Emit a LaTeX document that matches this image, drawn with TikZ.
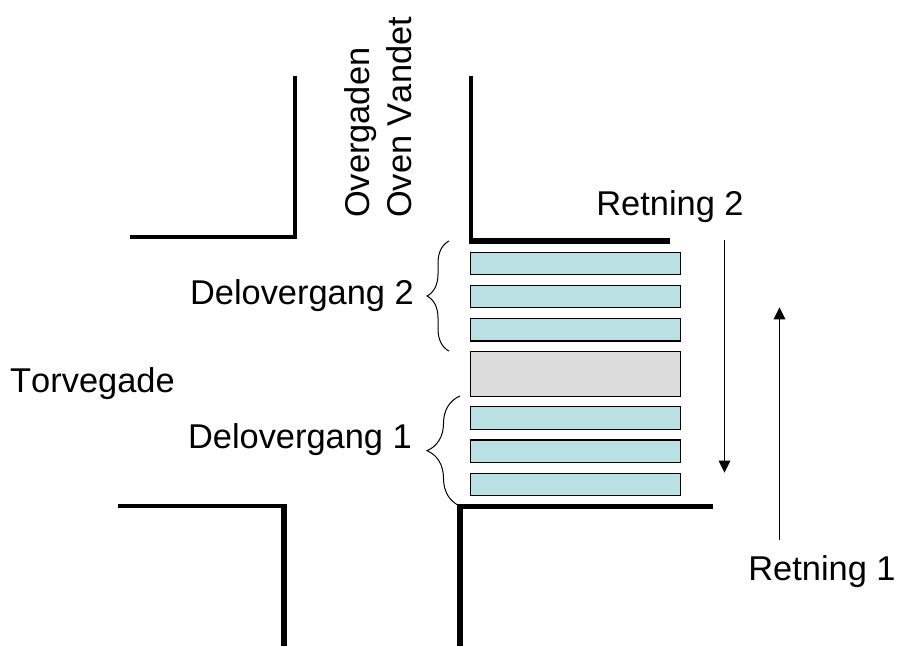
\documentclass[tikz,border=0pt]{standalone}
\usepackage{fontspec}
\setmainfont[Kerning=Off]{Liberation Sans}
\usetikzlibrary{arrows.meta, positioning, decorations.pathreplacing}
\definecolor{stripefill}{HTML}{B9E0E2}
\definecolor{islandfill}{HTML}{DCDCDC}
\begin{document}
\begin{tikzpicture}
  [x=1pt,y=-1pt,
   curb/.style={line width=4.3pt,line join=miter},
   widecurb/.style={line width=5.8pt,line join=miter},
   stripe/.style={rectangle,draw=black,line width=1.2pt,fill=stripefill,
                  inner sep=0pt,minimum width=210pt,minimum height=22.4pt},
   island/.style={rectangle,draw=black,line width=1.2pt,fill=islandfill,
                  inner sep=0pt,minimum width=210pt,minimum height=44.5pt},
   lbl/.style={font=\fontsize{34.4}{42.4}\selectfont,inner sep=0pt},
   flow/.style={-{Triangle[width=11.5pt,length=12pt]},line width=1.3pt},
   brace/.style={decorate,line width=1pt,draw=black}]
   \useasboundingbox (0,0) rectangle (897,646);
   % street corners
   \coordinate (nw top) at (295,76);
   \coordinate (nw in)  at (295,237);
   \coordinate (nw end) at (130,237);
   \coordinate (ne top) at (471,76);
   \coordinate (ne in)  at (471,241);
   \coordinate (ne end) at (670,241);
   \coordinate (sw end) at (118,506);
   \coordinate (sw in)  at (284,506);
   \coordinate (sw bot) at (284,646);
   \coordinate (se end) at (713,506.5);
   \coordinate (se in)  at (460,506.5);
   \coordinate (se bot) at (460,646);
   \draw[curb] (nw top) -- (nw in) -- (nw end);
   \draw[curb] (ne top) -- (ne in);
   \draw[widecurb] (469,241) -- (ne end);
   \draw[curb] (sw end) -- (sw in);
   \draw[widecurb] (sw in) ++(0,-2) -- (sw bot);
   \draw[widecurb] (se end) -- (se in) -- (se bot);
   % crossing
   \node[stripe] (s6) at (575.7,263.3) {};
   \node[stripe] (s5) [below=9.6pt of s6] {};
   \node[stripe] (s4) [below=9.6pt of s5] {};
   \node[island] (mid) at (575.7,373.9) {};
   \node[stripe] (s3) at (575.7,418) {};
   \node[stripe] (s2) [below=9.6pt of s3] {};
   \node[stripe] (s1) [below=9.6pt of s2] {};
   % labels
   \node[lbl,anchor=base west] (torv) at (10,392.7) {Torvegade};
   \node[lbl,rotate=90,anchor=base west,align=left] (over) at (411.7,218)
     {Overgaden\\Oven Vandet};
   \node[lbl,anchor=base east] (del2) at (414,304.3) {Delovergang 2};
   \node[lbl,anchor=base east] (del1) at (412,448.7) {Delovergang 1};
   \node[lbl,anchor=base] (ret2) at (670,215) {Retning 2};
   \node[lbl,anchor=base] (ret1) at (822,580) {Retning 1};
   % braces
   \coordinate (b2t) at (449,241);
   \coordinate (b2b) at (449,351);
   \coordinate (b1t) at (460,396);
   \coordinate (b1b) at (460,506);
   \draw[brace,decoration={brace,amplitude=22pt}] (b2b) -- (b2t);
   \draw[brace,decoration={brace,amplitude=33pt,aspect=0.503}] (b1b) -- (b1t);
   % directions
   \coordinate (r2a) at (724.5,240);
   \coordinate (r2b) at (724.5,472.7);
   \coordinate (r1a) at (779.5,540);
   \coordinate (r1b) at (779.5,307.3);
   \draw[flow] (r2a) -- (r2b);
   \draw[flow] (r1a) -- (r1b);
\end{tikzpicture}
\end{document}
